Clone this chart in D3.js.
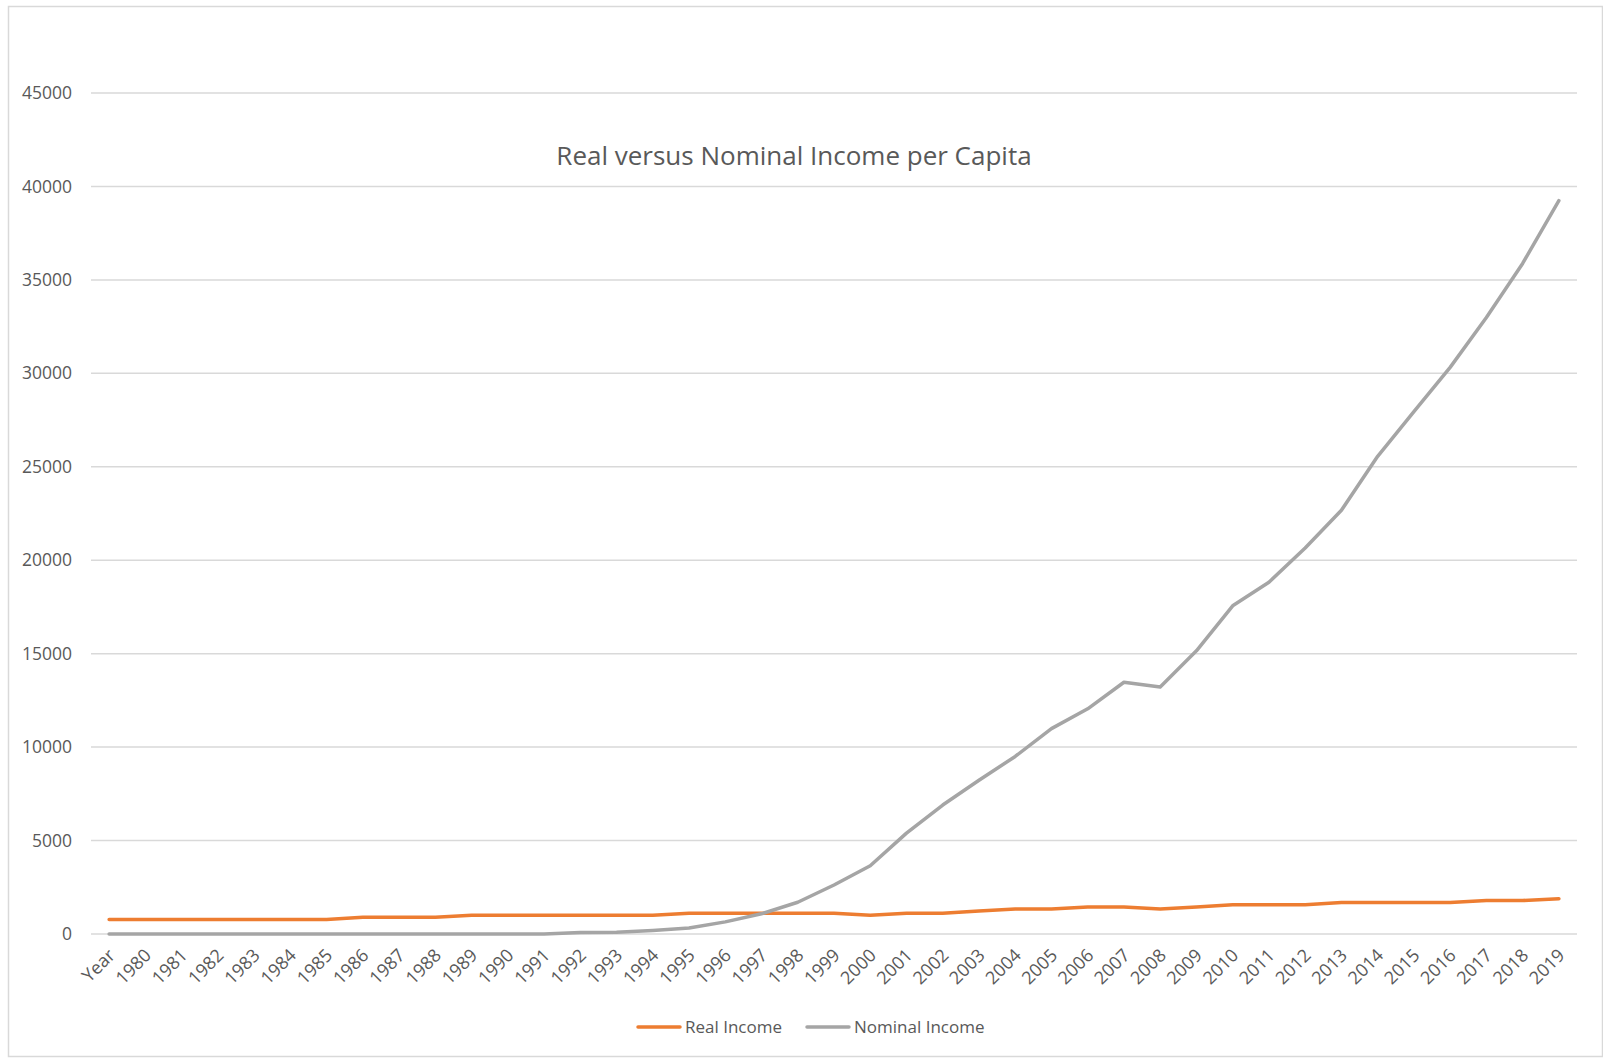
<!DOCTYPE html>
<html>
<head>
  <style>
    body { margin: 0; background: #fff; }
    svg text { font-family: 'Open Sans', sans-serif; fill: #595959; }
    .grid line { stroke: #d9d9d9; stroke-width: 1.5px; }
  </style>
  <script src="https://d3js.org/d3.v7.min.js"></script>
</head>
<body>
<div class="chart"></div>
<script>
const years = ['Year', '1980', '1981', '1982', '1983', '1984', '1985', '1986', '1987', '1988', '1989',
  '1990', '1991', '1992', '1993', '1994', '1995', '1996', '1997', '1998', '1999', '2000',
  '2001', '2002', '2003', '2004', '2005', '2006', '2007', '2008', '2009', '2010',
  '2011', '2012', '2013', '2014', '2015', '2016', '2017', '2018', '2019'];

const realIncome = [780, 780, 780, 780, 780, 780, 780, 890, 890, 890, 1000,
  1000, 1000, 1000, 1000, 1000, 1110, 1110, 1110, 1110, 1110, 1000,
  1110, 1110, 1230, 1340, 1340, 1450, 1450, 1340, 1450, 1570,
  1570, 1570, 1680, 1680, 1680, 1680, 1790, 1790, 1890];

const nominalIncome = [0, 0, 0, 0, 0, 0, 0, 0, 0, 0, 0,
  0, 0, 80, 100, 190, 320, 650, 1080, 1700, 2620, 3650,
  5400, 6900, 8230, 9500, 10990, 12050, 13470, 13220, 15150, 17560,
  18820, 20650, 22670, 25560, 27950, 30320, 32990, 35880, 39240];

const yTicks = [0, 5000, 10000, 15000, 20000, 25000, 30000, 35000, 40000, 45000];

const seriesNames = ['Real Income', 'Nominal Income'];
const seriesColours = ['#ed7d31', '#a5a5a5'];

const width = 1603;
const height = 1058;

const svg = d3.select('.chart')
  .append('svg')
  .attr('width', width)
  .attr('height', height);

// chart area border
svg.append('rect')
  .attr('x', 8.5)
  .attr('y', 6.5)
  .attr('width', width - 9)
  .attr('height', height - 8)
  .attr('fill', '#fff')
  .attr('stroke', '#d9d9d9')
  .attr('stroke-width', 1.5);

const x = d3.scalePoint()
  .domain(years)
  .range([91, 1577])
  .padding(0.5);

const y = d3.scaleLinear()
  .domain([0, 45000])
  .range([934, 93]);

const colour = d3.scaleOrdinal()
  .domain(seriesNames)
  .range(seriesColours);

// gridlines
svg.append('g')
  .attr('class', 'grid')
  .selectAll('line')
  .data(yTicks)
  .enter()
  .append('line')
  .attr('x1', 91)
  .attr('x2', 1577)
  .attr('y1', d => y(d))
  .attr('y2', d => y(d));

// y axis labels
const yAxis = d3.axisLeft(y)
  .tickValues(yTicks)
  .tickSize(0)
  .tickPadding(0)
  .tickFormat(d => d);

svg.append('g')
  .attr('transform', 'translate(72,0)')
  .call(yAxis)
  .call(g => g.select('.domain').remove())
  .call(g => g.selectAll('text')
    .attr('font-size', 17.5)
    .attr('fill', '#595959'));

// x axis labels, rotated
const xAxis = d3.axisBottom(x)
  .tickSize(0)
  .tickPadding(0);

svg.append('g')
  .attr('transform', 'translate(0,952)')
  .call(xAxis)
  .call(g => g.select('.domain').remove())
  .call(g => g.selectAll('text')
    .attr('font-size', 18)
    .attr('fill', '#595959')
    .attr('text-anchor', 'end')
    .attr('y', 0)
    .attr('dy', '0.35em')
    .attr('transform', 'translate(2,0) rotate(-45)'));

// title
svg.append('text')
  .attr('x', 794)
  .attr('y', 165)
  .attr('text-anchor', 'middle')
  .attr('font-size', 26)
  .text('Real versus Nominal Income per Capita');

// lines
const line = d3.line()
  .x((d, i) => x(years[i]))
  .y(d => y(d));

[realIncome, nominalIncome].forEach((values, i) => {
  svg.append('path')
    .datum(values)
    .attr('fill', 'none')
    .attr('stroke', colour(seriesNames[i]))
    .attr('stroke-width', 3.5)
    .attr('stroke-linejoin', 'round')
    .attr('stroke-linecap', 'round')
    .attr('d', line);
});

// legend
const legend = svg.append('g')
  .attr('transform', 'translate(0,1027)')
  .selectAll('g')
  .data(seriesNames)
  .enter()
  .append('g')
  .attr('transform', (d, i) => `translate(${[638, 807][i]},0)`);

legend.append('line')
  .attr('x1', 0)
  .attr('x2', 42)
  .attr('stroke', d => colour(d))
  .attr('stroke-width', 3.5)
  .attr('stroke-linecap', 'round');

legend.append('text')
  .attr('x', 47)
  .attr('dy', '0.35em')
  .attr('font-size', 17)
  .text(d => d);
</script>
</body>
</html>
